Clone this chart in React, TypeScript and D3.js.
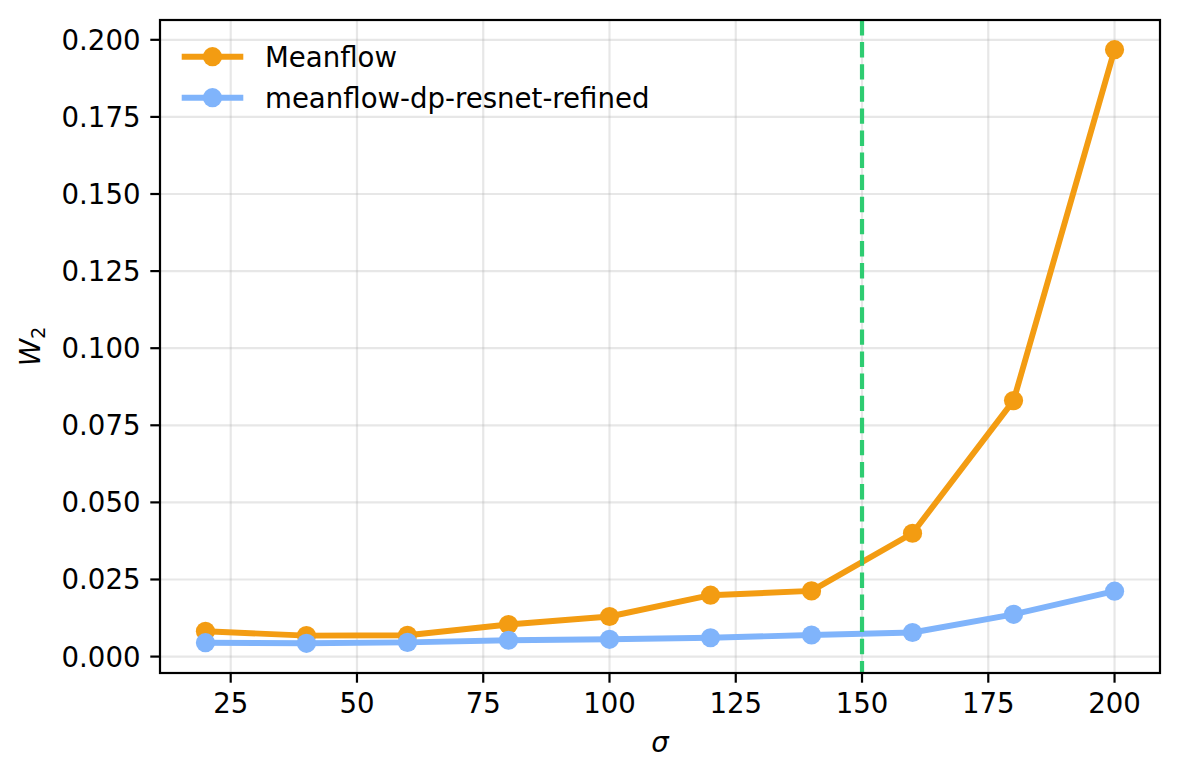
import React from "react";
import * as d3 from "d3";

const sigma = [20, 40, 60, 80, 100, 120, 140, 160, 180, 200];
const meanflow = [0.0082, 0.0068, 0.0069, 0.0104, 0.013, 0.0199, 0.0213, 0.04, 0.083, 0.1968];
const refined = [0.0045, 0.0043, 0.0046, 0.0053, 0.0056, 0.0061, 0.007, 0.0078, 0.0137, 0.0212];
const xTicks = [25, 50, 75, 100, 125, 150, 175, 200];
const yTicks = [0, 0.025, 0.05, 0.075, 0.1, 0.125, 0.15, 0.175, 0.2];
const seriesNames = ["Meanflow", "meanflow-dp-resnet-refined"];
const threshold = 150;

const W = 1180;
const H = 780;
const L = 160, R = 1160, T = 20, B = 673;
const FONT = "DejaVu Sans, sans-serif";
const FS = 27.6;
const ORANGE = "#f39c12";
const BLUE = "#80b4fb";
const GREEN = "#2ecc71";
const LW = 5.9;
const MR = 9.6;

export default function App() {
  const xMin = d3.min(sigma)!, xMax = d3.max(sigma)!;
  const xPad = (xMax - xMin) * 0.05;
  const all = meanflow.concat(refined);
  const yMin = d3.min(all)!, yMax = d3.max(all)!;
  const yPad = (yMax - yMin) * 0.05;
  const x = d3.scaleLinear().domain([xMin - xPad, xMax + xPad]).range([L, R]);
  const y = d3.scaleLinear().domain([yMin - yPad, yMax + yPad]).range([B, T]);
  const line = d3.line<number>().x((_, i) => x(sigma[i])).y((d) => y(d));
  const series = [
    { name: seriesNames[0], data: meanflow, color: ORANGE },
    { name: seriesNames[1], data: refined, color: BLUE },
  ];
  return (
    <svg width={W} height={H} style={{ position: "absolute", left: 0, top: 0, background: "#fff" }} fontFamily={FONT}>
      <rect x={0} y={0} width={W} height={H} fill="#fff" />
      <g stroke="#b0b0b0" strokeOpacity={0.3} strokeWidth={2.2}>
        {xTicks.map((t) => (
          <line key={"gx" + t} x1={x(t)} x2={x(t)} y1={T} y2={B} />
        ))}
        {yTicks.map((t) => (
          <line key={"gy" + t} x1={L} x2={R} y1={y(t)} y2={y(t)} />
        ))}
      </g>
      {series.map((s) => (
        <g key={s.name}>
          <path d={line(s.data) || ""} fill="none" stroke={s.color} strokeWidth={LW} strokeLinejoin="round" strokeLinecap="butt" />
          {s.data.map((v, i) => (
            <circle key={i} cx={x(sigma[i])} cy={y(v)} r={MR} fill={s.color} />
          ))}
        </g>
      ))}
      <line x1={x(threshold)} x2={x(threshold)} y1={T} y2={B} stroke={GREEN} strokeWidth={4.2} strokeDasharray="15.4 6.7" />
      <rect x={L} y={T} width={R - L} height={B - T} fill="none" stroke="#000" strokeWidth={2.2} />
      {xTicks.map((t) => (
        <g key={"xt" + t}>
          <line x1={x(t)} x2={x(t)} y1={B} y2={B + 9.7} stroke="#000" strokeWidth={2.2} />
          <text x={x(t)} y={B + 40} textAnchor="middle" fontSize={FS} fill="#000">{t}</text>
        </g>
      ))}
      {yTicks.map((t) => (
        <g key={"yt" + t}>
          <line x1={L} x2={L - 9.7} y1={y(t)} y2={y(t)} stroke="#000" strokeWidth={2.2} />
          <text x={L - 19.5} y={y(t) + 10} textAnchor="end" fontSize={FS} fill="#000">{d3.format(".3f")(t)}</text>
        </g>
      ))}
      <text x={(L + R) / 2} y={752} textAnchor="middle" fontSize={FS} fontStyle="italic" fill="#000">σ</text>
      <text transform={`translate(40, ${(T + B) / 2}) rotate(-90)`} textAnchor="middle" fontSize={FS} fill="#000">
        <tspan fontStyle="italic">W</tspan>
        <tspan fontSize={19.5} dy={5}>2</tspan>
      </text>
      {series.map((s, i) => {
        const ly = 56.7 + i * 41;
        return (
          <g key={"lg" + s.name}>
            <line x1={181.7} x2={243.3} y1={ly} y2={ly} stroke={s.color} strokeWidth={LW} />
            <circle cx={212.5} cy={ly} r={MR} fill={s.color} />
            <text x={265} y={ly + 10} fontSize={FS} fill="#000">{s.name}</text>
          </g>
        );
      })}
    </svg>
  );
}
